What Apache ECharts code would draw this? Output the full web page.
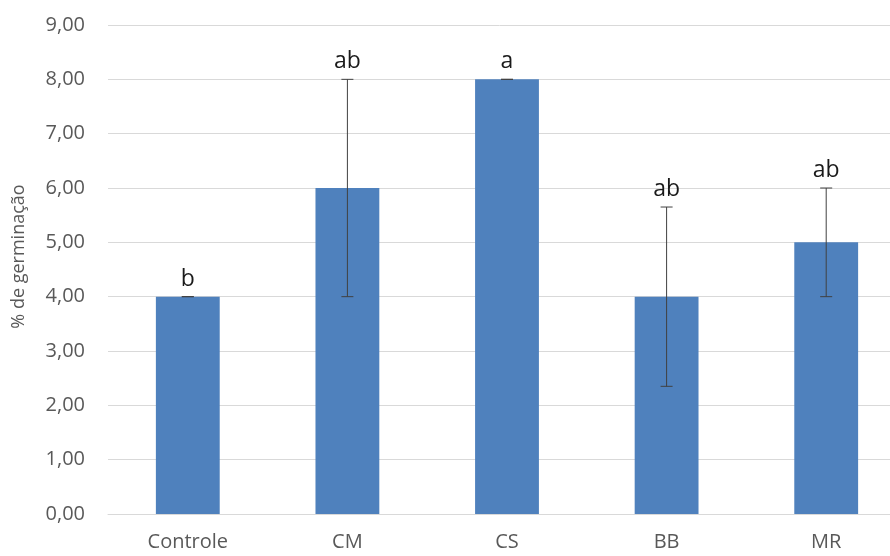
<!DOCTYPE html>
<html>
<head>
<meta charset="utf-8">
<script src="https://cdn.jsdelivr.net/npm/echarts@6/dist/echarts.min.js"></script>
<style>
  html, body { margin: 0; padding: 0; background: #fff; }
  #chart { width: 890px; height: 556px; }
</style>
</head>
<body>
<div id="chart"></div>
<script>
  // data
  const categories = ['Controle', 'CM', 'CS', 'BB', 'MR']
  const means = [4, 6, 8, 4, 5]
  const errors = [0, 2, 0, 1.65, 1]
  const letters = ['b', 'ab', 'a', 'ab', 'ab']
  const yTicks = { min: 0, max: 9, interval: 1 }

  const fontFamily = '"Open Sans", "Liberation Sans", sans-serif'
  const errData = means.map((m, i) => [i, m, errors[i]])

  const chart = echarts.init(document.getElementById('chart'))
  chart.setOption({
    animation: false,
    textStyle: { fontFamily: fontFamily },
    grid: { left: 108, top: 25, width: 798, height: 489, outerBoundsMode: 'none', containLabel: false },
    xAxis: {
      type: 'category',
      data: categories,
      axisLine: { lineStyle: { color: '#d9d9d9' } },
      axisTick: { show: false },
      axisLabel: { color: '#595959', fontSize: 20, margin: 18, fontFamily: fontFamily }
    },
    yAxis: {
      type: 'value',
      min: yTicks.min,
      max: yTicks.max,
      interval: yTicks.interval,
      name: '% de germinação',
      nameLocation: 'middle',
      nameGap: 80,
      nameTextStyle: { color: '#595959', fontSize: 18, fontFamily: fontFamily, padding: [0, 0, 0, 26] },
      axisLine: { show: false },
      axisTick: { show: false },
      splitLine: { lineStyle: { color: '#d9d9d9' } },
      axisLabel: {
        color: '#595959',
        fontSize: 20,
        margin: 23,
        fontFamily: fontFamily,
        formatter: v => v.toFixed(2).replace('.', ',')
      }
    },
    series: [
      {
        type: 'bar',
        data: means,
        barWidth: '40%',
        itemStyle: { color: '#4F81BD' }
      },
      {
        type: 'custom',
        z: 5,
        data: errData,
        renderItem: function (params, api) {
          const x = api.value(0)
          const m = api.value(1)
          const e = api.value(2)
          const top = api.coord([x, m + e])
          const bot = api.coord([x, m - e])
          const cap = 6
          const style = { stroke: '#404040', lineWidth: 1 }
          return {
            type: 'group',
            children: [
              { type: 'line', shape: { x1: top[0], y1: top[1], x2: bot[0], y2: bot[1] }, style: style },
              { type: 'line', shape: { x1: top[0] - cap, y1: top[1], x2: top[0] + cap, y2: top[1] }, style: style },
              { type: 'line', shape: { x1: bot[0] - cap, y1: bot[1], x2: bot[0] + cap, y2: bot[1] }, style: style },
              {
                type: 'text',
                x: top[0],
                y: top[1] - 6,
                style: {
                  text: letters[params.dataIndex],
                  fill: '#1a1a1a',
                  fontSize: 23,
                  fontFamily: fontFamily,
                  align: 'center',
                  verticalAlign: 'bottom'
                }
              }
            ]
          }
        }
      }
    ]
  })
</script>
</body>
</html>
